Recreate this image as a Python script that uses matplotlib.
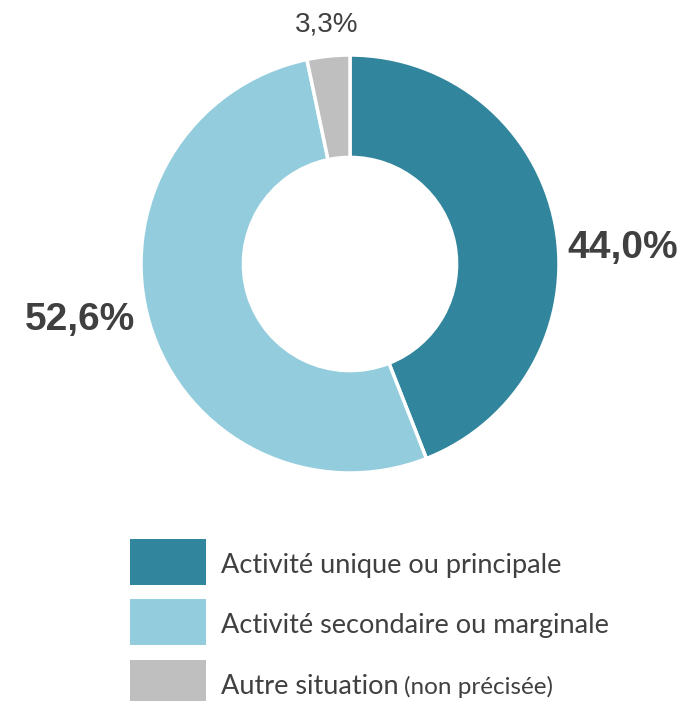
import matplotlib.pyplot as plt
from matplotlib.patches import Rectangle

# data
categories = ["Activité unique ou principale",
              "Activité secondaire ou marginale",
              "Autre situation"]
notes = ["", "", "(non précisée)"]
shares = [44.0, 52.6, 3.3]
labels = ["44,0%", "52,6%", "3,3%"]
colors = ["#31859C", "#93CDDD", "#BFBFBF"]

text_color = "#404040"

# figure 681x701 px
fig = plt.figure(figsize=(6.81, 7.01), dpi=100)
W, H = 681, 701

# donut: centre (350, 264) px, radius 209 px
cx, cy, r = 350, 264, 209
ax = fig.add_axes([(cx - r) / W, (H - cy - r) / H, 2 * r / W, 2 * r / H])
ax.pie(shares, colors=colors, startangle=90, counterclock=False, radius=1,
       wedgeprops=dict(width=0.49, edgecolor="white", linewidth=2.5))
ax.set_xlim(-1, 1)
ax.set_ylim(-1, 1)
ax.set_aspect("equal")
ax.axis("off")

# percentage labels (placed like the original, outside the ring)
label_pos = [(1.306, 0.077), (-1.292, -0.268), (-0.110, 1.144)]
label_size = [28, 28, 20]
label_weight = ["bold", "bold", "normal"]
for txt, (x, y), fs, fw in zip(labels, label_pos, label_size, label_weight):
    ax.text(x, y, txt, ha="center", va="center", fontsize=fs, fontweight=fw,
            family="Liberation Sans", color=text_color, clip_on=False)

# legend drawn by hand
row_top = [539, 599, 660]
box_h = 46
for i, (cat, note, col) in enumerate(zip(categories, notes, colors)):
    top = row_top[i]
    fig.patches.append(Rectangle((130 / W, (H - top - box_h) / H), 76 / W, box_h / H,
                                 transform=fig.transFigure, facecolor=col,
                                 edgecolor="none"))
    # baseline about 11 px above box bottom
    ty = (H - (top + box_h) + 12) / H
    t = fig.text(221 / W, ty, cat, ha="left", va="baseline", fontsize=19.5,
                 family="Lato", color=text_color)
    if note:
        fig.canvas.draw()
        bb = t.get_window_extent()
        fig.text((bb.x1 + 5) / W, ty, note, ha="left", va="baseline",
                 fontsize=17.5, family="Lato", color=text_color)

fig.savefig("out.png", dpi=100)
